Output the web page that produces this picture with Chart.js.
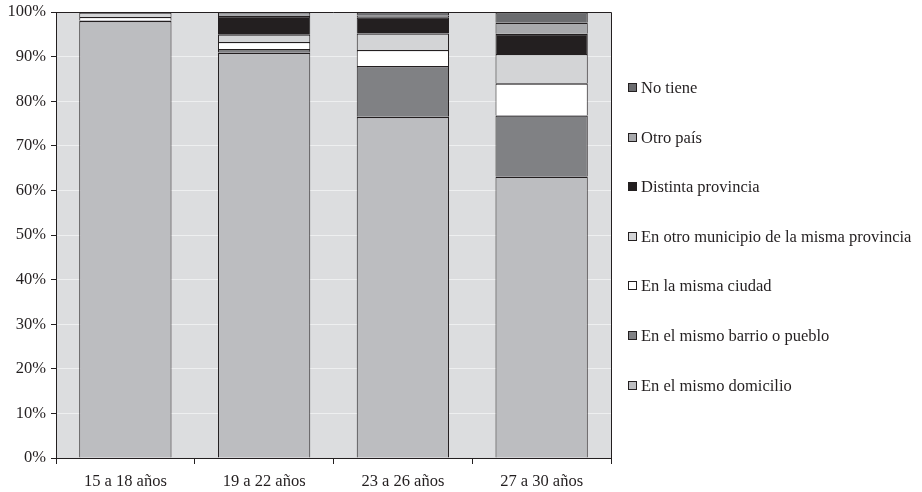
<!DOCTYPE html>
<html><head><meta charset="utf-8">
<script src="https://cdn.jsdelivr.net/npm/chart.js@4.4.1/dist/chart.umd.min.js"></script>
<style>html,body{margin:0;padding:0;background:#fff}#wrap{width:922px;height:492px;position:relative}</style>
</head><body><div id="wrap"><canvas id="c" width="922" height="492"></canvas></div>
<script>
const categories = ['15 a 18 años', '19 a 22 años', '23 a 26 años', '27 a 30 años'];
const seriesNames = ['En el mismo domicilio', 'En el mismo barrio o pueblo', 'En la misma ciudad',
  'En otro municipio de la misma provincia', 'Distinta provincia', 'Otro país', 'No tiene'];
const mismoDomicilio    = [98.0, 90.9, 76.5, 63.1];
const mismoBarrio       = [0.1, 0.8, 11.4, 13.7];
const mismaCiudad       = [0.8, 1.6, 3.6, 7.2];
const otroMunicipio     = [1.0, 1.7, 3.7, 6.6];
const distintaProvincia = [0.1, 4.1, 3.6, 4.5];
const otroPais          = [0.0, 0.9, 0.4, 2.5];
const noTiene           = [0.0, 0.0, 0.8, 2.4];
const yTickLabels = ['0%', '10%', '20%', '30%', '40%', '50%', '60%', '70%', '80%', '90%', '100%'];

const seriesValues = [mismoDomicilio, mismoBarrio, mismaCiudad, otroMunicipio, distintaProvincia, otroPais, noTiene];
const seriesColors = ['#bcbdc0', '#808184', '#ffffff', '#d3d4d6', '#231f20', '#a8a9ac', '#6b6c6f'];

const INK = '#231f20';
const FONT = {family: "'Liberation Serif', 'Times New Roman', serif", size: 16.5};

const plotFrame = {
  id: 'plotFrame',
  beforeDraw(chart) {
    const {ctx, chartArea: a} = chart;
    ctx.save();
    ctx.fillStyle = '#dcdddf';
    ctx.fillRect(a.left, a.top, a.right - a.left, a.bottom - a.top);
    ctx.restore();
  },
  afterDraw(chart) {
    const {ctx, chartArea: a} = chart;
    ctx.save();
    ctx.strokeStyle = INK;
    ctx.lineWidth = 1;
    ctx.beginPath();
    ctx.moveTo(a.left, Math.round(a.top) + 0.5);
    ctx.lineTo(a.right + 0.5, Math.round(a.top) + 0.5);
    ctx.lineTo(a.right + 0.5, a.bottom);
    ctx.stroke();
    // legend
    const ds = chart.data.datasets;
    const x0 = 628, y0 = 88, step = 49.6;
    ctx.font = "16.5px 'Liberation Serif', 'Times New Roman', serif";
    ctx.textBaseline = 'middle';
    ctx.textAlign = 'left';
    for (let i = ds.length - 1, row = 0; i >= 0; i--, row++) {
      const y = Math.round(y0 + row * step);
      ctx.fillStyle = ds[i].backgroundColor;
      ctx.fillRect(x0, y - 5, 9, 9);
      ctx.strokeStyle = INK;
      ctx.strokeRect(x0 + 0.5, y - 4.5, 8, 8);
      ctx.fillStyle = INK;
      ctx.fillText(ds[i].label, x0 + 13, y + 1);
    }
    ctx.restore();
  }
};

new Chart(document.getElementById('c'), {
  type: 'bar',
  data: {
    labels: categories,
    datasets: seriesNames.map((name, i) => ({
      label: name,
      data: seriesValues[i],
      backgroundColor: seriesColors[i],
      borderColor: INK,
      borderWidth: {top: 1.4, left: 1, right: 1, bottom: 0},
      borderSkipped: false,
      categoryPercentage: 1,
      barPercentage: 0.665
    }))
  },
  options: {
    responsive: false,
    animation: false,
    devicePixelRatio: 1,
    layout: {padding: {top: 12, right: 311, left: 0, bottom: 0}},
    plugins: {legend: {display: false}, tooltip: {enabled: false}},
    scales: {
      x: {
        stacked: true,
        grid: {offset: true, drawOnChartArea: false, drawTicks: true, tickLength: 6, tickColor: INK},
        border: {color: INK, width: 1},
        ticks: {font: FONT, color: INK, padding: 8},
        afterFit: s => { s.height = 34; s.paddingLeft = 0; s.paddingRight = 0; }
      },
      y: {
        stacked: true,
        min: 0, max: 100,
        grid: {color: '#eeeff0', tickColor: INK, tickLength: 5, lineWidth: 1},
        border: {color: INK, width: 1},
        ticks: {stepSize: 10, font: FONT, color: INK, padding: 5,
          callback: (v, i) => yTickLabels[i]},
        afterFit: s => { s.width = 56; s.paddingTop = 0; s.paddingBottom = 0; }
      }
    }
  },
  plugins: [plotFrame]
});
</script></body></html>
